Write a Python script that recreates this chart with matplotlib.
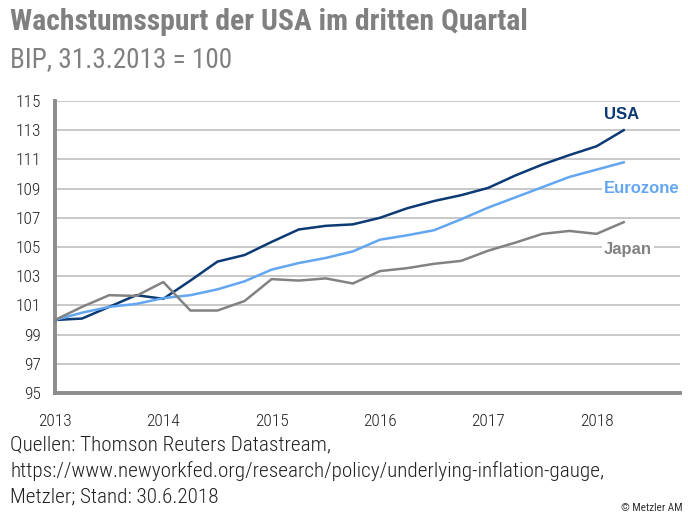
import matplotlib
matplotlib.use('Agg')
import matplotlib.pyplot as plt
import numpy as np

# quarterly values, 31.3.2013 = 100
quarters = np.arange(2013.0, 2018.26, 0.25)
usa = [100.0, 100.1, 100.9, 101.7, 101.45, 102.7, 104.0, 104.45, 105.35, 106.2, 106.45,
       106.55, 107.0, 107.65, 108.15, 108.55, 109.05, 109.9, 110.65, 111.3, 111.9, 113.0]
eurozone = [100.0, 100.5, 100.9, 101.1, 101.5, 101.7, 102.1, 102.65, 103.45, 103.9, 104.25,
            104.7, 105.5, 105.8, 106.15, 106.9, 107.7, 108.4, 109.1, 109.8, 110.3, 110.8]
japan = [100.0, 100.9, 101.7, 101.65, 102.6, 100.65, 100.65, 101.3, 102.8, 102.7, 102.85,
         102.5, 103.35, 103.55, 103.85, 104.05, 104.75, 105.3, 105.9, 106.1, 105.9, 106.7]

year_ticks = [2013, 2014, 2015, 2016, 2017, 2018]
y_ticks = list(range(95, 116, 2))

c_usa = '#0b3a74'
c_euro = '#62a6f2'
c_japan = '#828282'
c_axis = '#8c8c8c'

W, H = 688, 518
fig = plt.figure(figsize=(W / 100, H / 100), dpi=100)
ax = fig.add_axes([55 / W, 1 - 393 / H, (680 - 55) / W, (393 - 101) / H])

narrow = ['Roboto Condensed', 'DejaVu Sans']
arial = ['Liberation Sans', 'DejaVu Sans']

ax.plot(quarters, usa, color=c_usa, lw=1.8, zorder=3)
ax.plot(quarters, eurozone, color=c_euro, lw=1.8, zorder=3)
ax.plot(quarters, japan, color=c_japan, lw=1.8, zorder=3)

ax.set_xlim(2013, 2018.77)
ax.set_ylim(95, 115)
ax.set_yticks(y_ticks)
ax.set_xticks(year_ticks)
ax.grid(axis='y', color='#c4c4c4', lw=1.3, zorder=1)
ax.tick_params(length=0, labelsize=12.5, labelcolor='#222222')
ax.tick_params(axis='x', pad=15)
ax.tick_params(axis='y', pad=10)
for lab in ax.get_xticklabels() + ax.get_yticklabels():
    lab.set_family(narrow)
    lab.set_fontweight('light')
for s in ['top', 'right']:
    ax.spines[s].set_visible(False)
for s in ['left', 'bottom']:
    ax.spines[s].set_color(c_axis)
    ax.spines[s].set_linewidth(2.8)

lbl = dict(family=arial, fontsize=12, fontweight='bold', ha='left', va='center', zorder=4,
           bbox=dict(facecolor='white', edgecolor='none', pad=1.5))
ax.text(2018.07, 114.1, 'USA', color=c_usa, **lbl)
ax.text(2018.07, 109.0, 'Eurozone', color=c_euro, **lbl)
ax.text(2018.07, 104.8, 'Japan', color=c_japan, **lbl)

fig.text(10 / W, 1 - 22 / H, 'Wachstumsspurt der USA im dritten Quartal', family=narrow,
         fontsize=21.3, fontweight='bold', color='#808080', va='center')
fig.text(10 / W, 1 - 60 / H, 'BIP, 31.3.2013 = 100', family=narrow,
         fontsize=19.5, fontweight='normal', color='#808080', va='center')

notes = ['Quellen: Thomson Reuters Datastream,',
         'https://www.newyorkfed.org/research/policy/underlying-inflation-gauge,',
         'Metzler; Stand: 30.6.2018']
for i, line in enumerate(notes):
    fig.text(10 / W, 1 - (445 + i * 26) / H, line, family=narrow, fontsize=15.3,
             fontweight='light', color='#222222', va='center')
fig.text(683 / W, 1 - 508 / H, '\u00a9 Metzler AM', family=narrow, fontsize=8,
         color='#333333', ha='right', va='center')

fig.savefig('out.png', dpi=100)
